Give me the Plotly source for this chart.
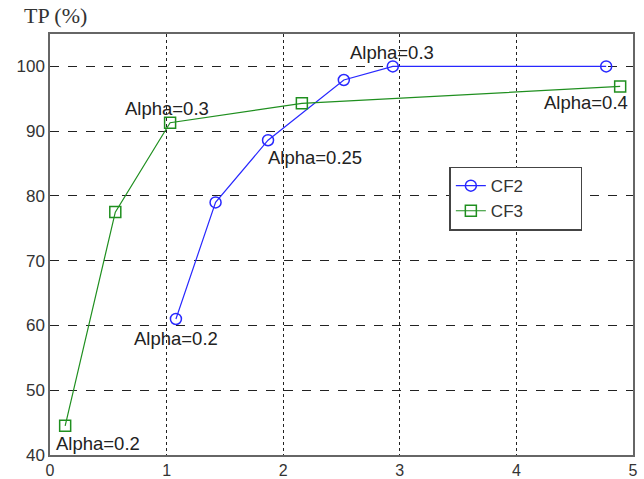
import plotly.graph_objects as go

cf2_x = [1.08, 1.42, 1.87, 2.52, 2.94, 4.77]
cf2_y = [61, 79, 88.6, 97.9, 100, 100]
cf3_x = [0.13, 0.56, 1.03, 2.16, 4.89]
cf3_y = [44.5, 77.5, 91.3, 94.3, 96.9]

ann_text = ["Alpha=0.2", "Alpha=0.25", "Alpha=0.3", "Alpha=0.2", "Alpha=0.3", "Alpha=0.4"]
ann_x = [1.08, 2.27, 2.93, 0.41, 1.0, 4.6]
ann_y = [58.0, 86.0, 102.2, 41.7, 93.5, 94.5]

fig = go.Figure()
fig.add_trace(go.Scatter(x=cf2_x, y=cf2_y, mode="lines+markers",
                         name="CF2&nbsp;&nbsp;&nbsp;&nbsp;&nbsp;&nbsp;&nbsp;&nbsp;&nbsp;&nbsp;&nbsp;",
                         line=dict(color="#2828ff", width=1.2),
                         marker=dict(symbol="circle-open", size=11, color="#2828ff", line=dict(width=1.5))))
fig.add_trace(go.Scatter(x=cf3_x, y=cf3_y, mode="lines+markers", name="CF3",
                         line=dict(color="#1f8f1f", width=1.2),
                         marker=dict(symbol="square-open", size=11, color="#1f8f1f", line=dict(width=1.5))))

for t, x, y in zip(ann_text, ann_x, ann_y):
    fig.add_annotation(x=x, y=y, text=t, showarrow=False,
                       font=dict(family="Arial, Liberation Sans", size=18.5, color="#222"))

fig.add_annotation(xref="paper", yref="paper", x=-0.048, y=1.0, yshift=4, xanchor="left", yanchor="bottom",
                   text="TP (%)", showarrow=False,
                   font=dict(family="Liberation Serif, Times New Roman", size=22, color="#333"))

tickfont = dict(family="Arial, Liberation Sans", size=16, color="#333")
fig.update_xaxes(range=[0, 5], tickvals=[0, 1, 2, 3, 4, 5], showgrid=True,
                 gridcolor="#222", griddash="dot", gridwidth=1.2,
                 showline=True, mirror=True, linecolor="#666", linewidth=1.5,
                 zeroline=False, ticks="", ticklen=0, automargin=False, tickfont=tickfont)
fig.update_yaxes(range=[40, 105], tickvals=[40, 50, 60, 70, 80, 90, 100], showgrid=True,
                 gridcolor="#222", griddash="dash", gridwidth=1.2,
                 showline=True, mirror=True, linecolor="#666", linewidth=1.5,
                 zeroline=False, ticks="", automargin=False, tickfont=dict(family="Arial, Liberation Sans", size=17, color="#333"))

fig.update_layout(width=644, height=479, margin=dict(l=50, r=11, t=34, b=24),
                  plot_bgcolor="white", paper_bgcolor="white",
                  legend=dict(x=0.685, y=0.685, xanchor="left", yanchor="top",
                              bgcolor="white", bordercolor="#444", borderwidth=1.5,
                              tracegroupgap=0,
                              font=dict(family="Arial, Liberation Sans", size=17, color="#333")))

fig.write_html("out.html", config={"displayModeBar": False},
               post_script="document.body.style.margin='0';document.body.style.overflow='hidden';")
